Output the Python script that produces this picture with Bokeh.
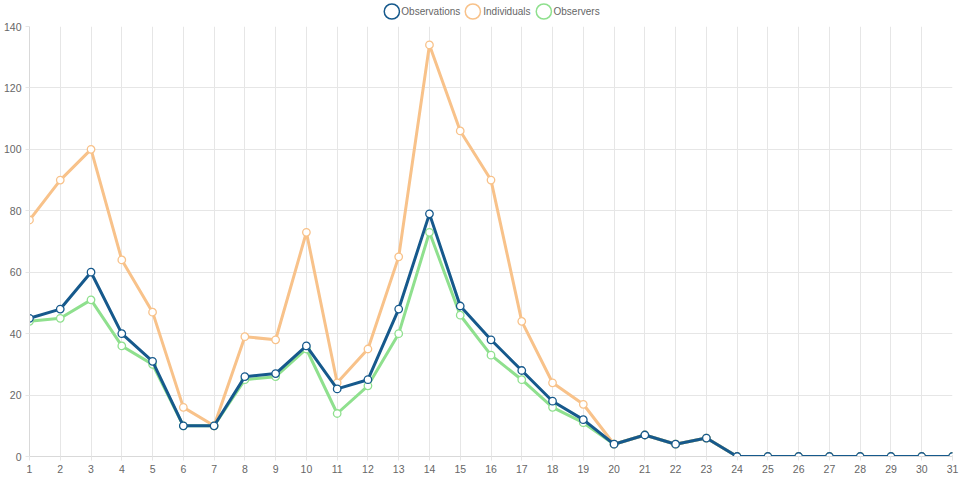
from bokeh.plotting import figure
from bokeh.models import Legend, LegendItem, FixedTicker, ColumnDataSource
from bokeh.layouts import column
from bokeh.embed import file_html
from bokeh.resources import INLINE

days = list(range(1, 32))
observations = [45, 48, 60, 40, 31, 10, 10, 26, 27, 36, 22, 25, 48, 79, 49, 38, 28, 18, 12, 4,
                7, 4, 6, 0, 0, 0, 0, 0, 0, 0, 0]
individuals = [77, 90, 100, 64, 47, 16, 10, 39, 38, 73, 24, 35, 65, 134, 106, 90, 44, 24, 17, 4,
               7, 4, 6, 0, 0, 0, 0, 0, 0, 0, 0]
observers = [44, 45, 51, 36, 30, 10, 10, 25, 26, 35, 14, 23, 40, 73, 46, 33, 25, 16, 11, 4,
             7, 4, 6, 0, 0, 0, 0, 0, 0, 0, 0]
y_ticks = [0, 20, 40, 60, 80, 100, 120, 140]

series = [
    ("Observers", observers, "#8fe08e"),
    ("Individuals", individuals, "#f8c28a"),
    ("Observations", observations, "#16598c"),
]
legend_order = ["Observations", "Individuals", "Observers"]

FONT = "Liberation Sans"
TXT = "#666666"
GRID = "#e6e6e6"

# main chart
p = figure(width=960, height=459, output_backend="svg", toolbar_location=None,
           x_range=(1, 31), y_range=(0, 140), min_border_top=5, min_border_right=8,
           min_border_left=28, min_border_bottom=24)
p.outline_line_color = None

p.xaxis.ticker = FixedTicker(ticks=days)
p.yaxis.ticker = FixedTicker(ticks=y_ticks)
for ax in (p.xaxis[0], p.yaxis[0]):
    ax.axis_line_color = "#d9d9d9"
    ax.major_tick_line_color = GRID
    ax.major_tick_out = 4
    ax.major_tick_in = 0
    ax.minor_tick_line_color = None
    ax.major_label_text_font = FONT
    ax.major_label_text_font_size = "10.5px"
    ax.major_label_text_color = TXT
    ax.major_label_standoff = 4
p.xgrid.grid_line_color = GRID
p.ygrid.grid_line_color = GRID

colors = {}
for name, vals, color in series:
    colors[name] = color
    src = ColumnDataSource(dict(x=days, y=vals))
    p.line("x", "y", source=src, line_color=color, line_width=3)
    p.scatter("x", "y", source=src, size=7.5, fill_color="white", line_color=color, line_width=1.3)

# legend strip
lf = figure(width=960, height=21, output_backend="svg", toolbar_location=None,
            x_axis_type=None, y_axis_type=None, min_border=0)
lf.outline_line_color = None
lf.grid.visible = False
items = []
for name in legend_order:
    r = lf.ellipse(x=[float("nan")], y=[float("nan")], width=10, height=10,
                   width_units="screen", height_units="screen",
                   fill_color="white", line_color=colors[name], line_width=1.5)
    items.append(LegendItem(label=name, renderers=[r], index=0))
legend = Legend(items=items, orientation="horizontal", location="center",
                margin=0, padding=0, spacing=3, glyph_width=19, glyph_height=19,
                label_standoff=1, label_text_font=FONT, label_text_font_size="10px",
                label_text_color=TXT, border_line_color=None, background_fill_alpha=0)
lf.add_layout(legend, "center")

layout = column(lf, p, spacing=0)
open("out.html", "w").write(file_html(layout, INLINE))
